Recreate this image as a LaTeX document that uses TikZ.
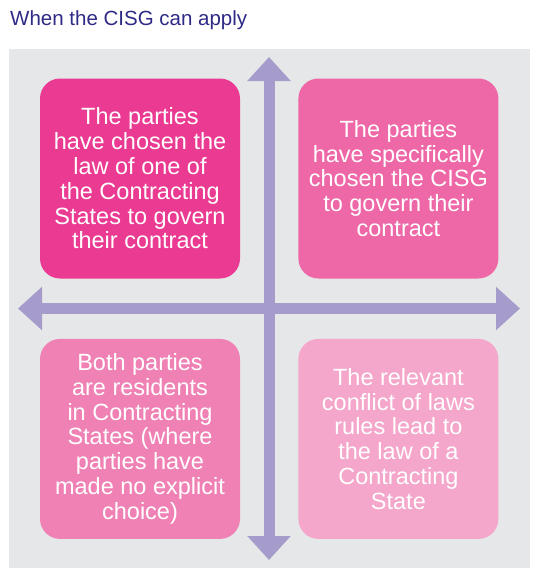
\documentclass[tikz,border=0pt]{standalone}
\usepackage{fontspec}
\setmainfont{Liberation Sans}
\usetikzlibrary{arrows.meta, positioning}
\definecolor{titleblue}{HTML}{2E2A86}
\definecolor{panelgrey}{HTML}{E6E7E8}
\definecolor{axislilac}{HTML}{A59CCB}
\definecolor{pinkA}{HTML}{EA3A91}
\definecolor{pinkB}{HTML}{EE67A6}
\definecolor{pinkC}{HTML}{F081B4}
\definecolor{pinkD}{HTML}{F4A6CB}
\tikzset{
  quad/.style={
    rectangle, rounded corners=20pt, text=white,
    text centered, align=center, minimum width=200pt, minimum height=200pt,
    inner sep=0pt, font=\fontsize{23.5}{24.8}\selectfont
  },
  axis/.style={
    {Triangle[length=24pt, width=42pt]}-{Triangle[length=24pt, width=42pt]},
    line width=11pt, draw=axislilac, fill=axislilac
  },
}

\begin{document}
\begin{tikzpicture}[x=1pt, y=-1pt, node distance=60pt and 58pt]
  \useasboundingbox (0,0) rectangle (543,576);

  % ── title and panel ───────────────────────────────────────────────────────
  \node[anchor=base west, inner sep=0pt, text=titleblue,
        font=\fontsize{20.5}{24}\selectfont] (title) at (10,25) {When the CISG can apply};
  \fill[panelgrey] (9,49) rectangle (530,568);

  % ── axes ──────────────────────────────────────────────────────────────────
  \coordinate (top)    at (269,57);
  \coordinate (bottom) at (269,560);
  \coordinate (left)   at (18,308.5);
  \coordinate (right)  at (520,308.5);
  \draw[axis] (left) -- (right);
  \draw[axis] (top)  -- (bottom);

  % ── quadrants ─────────────────────────────────────────────────────────────
  \node[quad, fill=pinkA] (law) at (140,178.5)
    {The parties\\have chosen the\\law of one of\\the Contracting\\States to govern\\their contract};
  \node[quad, fill=pinkB, right=of law] (cisg)
    {The parties\\have specifically\\chosen the CISG\\to govern their\\contract};
  \node[quad, fill=pinkC, below=of law] (resid)
    {Both parties\\are residents\\in Contracting\\States (where\\parties have\\made no explicit\\choice)};
  \node[quad, fill=pinkD, below=of cisg] (conflict)
    {The relevant\\conflict of laws\\rules lead to\\the law of a\\Contracting\\State};

\end{tikzpicture}
\end{document}
